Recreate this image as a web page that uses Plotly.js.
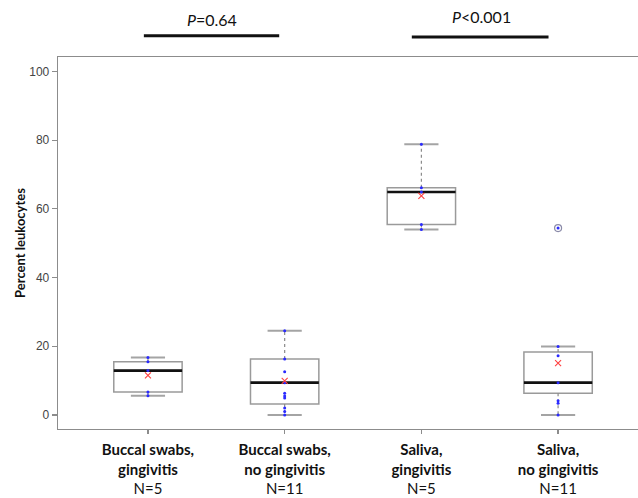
<!DOCTYPE html>
<html>
<head>
<meta charset="utf-8">
<script src="https://cdn.plot.ly/plotly-3.0.1.min.js"></script>
<style>html,body{margin:0;padding:0;background:#fff;overflow:hidden;width:638px;height:498px;}#chart{width:700px;height:498px;}</style>
</head>
<body>
<div id="chart"></div>
<script>
// ---- data ----
var groupLabels = ["Buccal swabs,<br>gingivitis", "Buccal swabs,<br>no gingivitis", "Saliva,<br>gingivitis", "Saliva,<br>no gingivitis"];
var groupN = [5, 11, 5, 11];
var q1 = [6.7, 3.2, 55.4, 6.3];
var medians = [12.9, 9.4, 64.9, 9.4];
var q3 = [15.5, 16.3, 66.1, 18.3];
var lowerWhisker = [5.6, 0, 54.0, 0];
var upperWhisker = [16.7, 24.5, 78.8, 19.9];
var means = [11.5, 9.9, 63.8, 15.1];
var points = [
  [5.6, 6.7, 12.9, 15.5, 16.7],
  [0, 1.0, 2.0, 4.9, 5.5, 6.3, 9.4, 12.6, 16.3, 24.5],
  [54.0, 55.4, 64.9, 66.1, 78.8],
  [0, 3.4, 4.1, 9.4, 17.2, 19.9]
];
var outlierGroup = [3];
var outlierValues = [54.4];
var pLabels = ["<i>P</i>=0.64", "<i>P</i>&lt;0.001"];
var yTicks = [0, 20, 40, 60, 80, 100];

// ---- build traces ----
var idx = groupLabels.map(function (_, i) { return i; });
var boxHalf = 0.25, capHalf = 0.125;
var traces = [];

traces.push({
  type: 'box', x: idx, q1: q1, median: medians, q3: q3,
  lowerfence: q1, upperfence: q3, width: 0.5,
  fillcolor: 'rgba(255,255,255,0)', line: {color: '#9a9a9a', width: 1.5},
  whiskerwidth: 0, boxpoints: false, hoverinfo: 'skip', showlegend: false
});

var wx = [], wy = [], cx = [], cy = [], mx = [], my = [];
idx.forEach(function (i) {
  wx.push(i, i, null, i, i, null);
  wy.push(q3[i], upperWhisker[i], null, q1[i], lowerWhisker[i], null);
  cx.push(i - capHalf, i + capHalf, null, i - capHalf, i + capHalf, null);
  cy.push(upperWhisker[i], upperWhisker[i], null, lowerWhisker[i], lowerWhisker[i], null);
  mx.push(i - boxHalf, i + boxHalf, null);
  my.push(medians[i], medians[i], null);
});
traces.push({type: 'scatter', mode: 'lines', x: wx, y: wy, line: {color: '#8a8a8a', width: 1.2, dash: 'dot'}, hoverinfo: 'skip', showlegend: false});
traces.push({type: 'scatter', mode: 'lines', x: cx, y: cy, line: {color: '#a4a4a4', width: 2}, hoverinfo: 'skip', showlegend: false});
traces.push({type: 'scatter', mode: 'lines', x: mx, y: my, line: {color: '#111111', width: 2.6}, hoverinfo: 'skip', showlegend: false});

var px = [], py = [];
points.forEach(function (arr, i) { arr.forEach(function (v) { px.push(i); py.push(v); }); });
traces.push({type: 'scatter', mode: 'markers', x: px, y: py, marker: {color: '#2a2aff', size: 3, symbol: 'circle'}, showlegend: false});

traces.push({type: 'scatter', mode: 'markers', x: outlierGroup, y: outlierValues,
  marker: {symbol: 'circle-open', size: 7, color: '#8a8aa8', line: {width: 1.2, color: '#8a8aa8'}}, showlegend: false});
traces.push({type: 'scatter', mode: 'markers', x: outlierGroup, y: outlierValues,
  marker: {symbol: 'circle', size: 3, color: '#2a2aff'}, showlegend: false});

traces.push({type: 'scatter', mode: 'markers', x: idx, y: means,
  marker: {symbol: 'x-thin', size: 6, color: '#ff4040', line: {width: 1.1, color: '#ff4040'}}, showlegend: false});

var tickText = groupLabels.map(function (g, i) { return '<b>' + g + '</b><br>N=' + groupN[i]; });

var layout = {
  width: 700, height: 498,
  margin: {l: 58, r: 0, t: 57, b: 69},
  paper_bgcolor: '#ffffff', plot_bgcolor: '#ffffff',
  showlegend: false,
  xaxis: {
    range: [-0.658, 4.038], tickvals: idx, ticktext: tickText,
    showline: true, mirror: true, linecolor: '#8c8c8c', linewidth: 1.3,
    ticks: 'outside', ticklen: 4, tickcolor: '#8c8c8c', tickwidth: 1.2,
    showgrid: false, zeroline: false, ticklabelstandoff: 3,
    tickfont: {family: 'Lato', size: 15, color: '#111111'}
  },
  yaxis: {
    range: [-4.1, 104.2], tickvals: yTicks,
    showline: true, mirror: false, linecolor: '#8c8c8c', linewidth: 1.3,
    ticks: 'outside', ticklen: 5, tickcolor: '#8c8c8c', tickwidth: 1.2,
    showgrid: false, zeroline: false,
    tickfont: {family: 'Liberation Sans', size: 12, color: '#444444'},
    title: {text: '<b>Percent leukocytes</b>', font: {family: 'Lato', size: 13, color: '#111111'}, standoff: 0}
  },
  shapes: [
    {type: 'line', xref: 'x', yref: 'paper', x0: -0.03, x1: 0.96, y0: 1.057, y1: 1.057, line: {color: '#111111', width: 3}},
    {type: 'line', xref: 'x', yref: 'paper', x0: 1.93, x1: 2.93, y0: 1.054, y1: 1.054, line: {color: '#111111', width: 3}}
  ],
  annotations: [
    {xref: 'x', yref: 'paper', x: 0.47, y: 1.102, yanchor: 'middle', text: pLabels[0], showarrow: false, font: {family: 'Lato', size: 16, color: '#111111'}},
    {xref: 'x', yref: 'paper', x: 2.44, y: 1.110, yanchor: 'middle', text: pLabels[1], showarrow: false, font: {family: 'Lato', size: 16, color: '#111111'}}
  ]
};

Plotly.newPlot('chart', traces, layout, {displayModeBar: false, staticPlot: true});
</script>
</body>
</html>
